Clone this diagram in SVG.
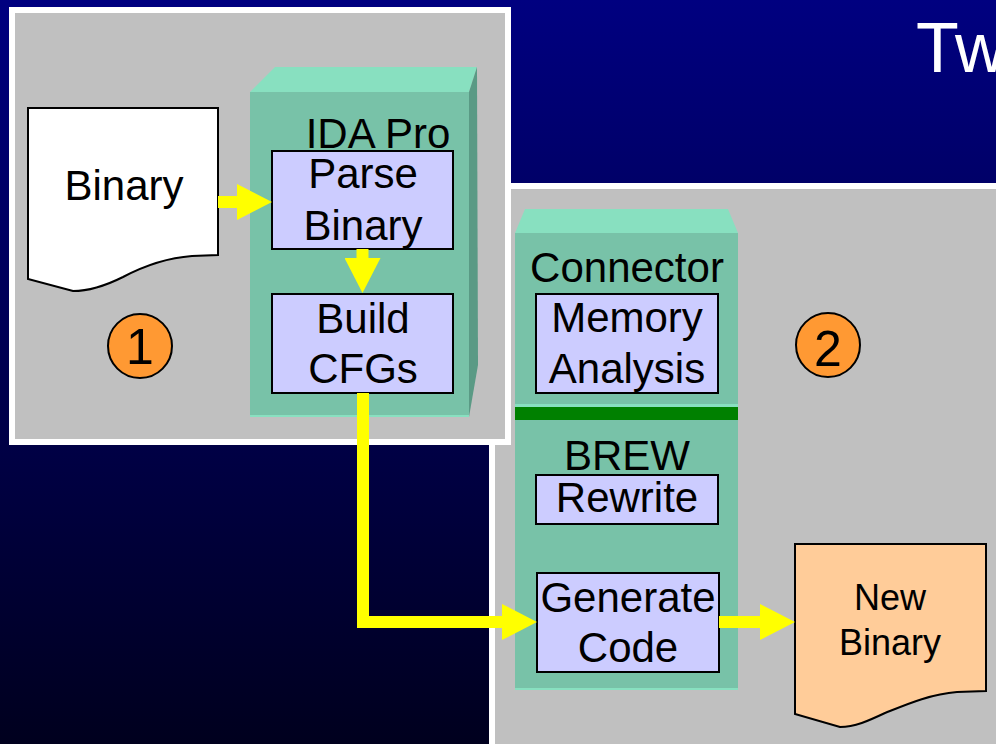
<svg xmlns="http://www.w3.org/2000/svg" width="996" height="744" viewBox="0 0 996 744">
<defs>
<linearGradient id="bg" x1="0" y1="0" x2="0" y2="1">
<stop offset="0" stop-color="#000080"/>
<stop offset="1" stop-color="#00001e"/>
</linearGradient>
<marker id="head" markerUnits="userSpaceOnUse" markerWidth="35" markerHeight="36" viewBox="0 0 35 36" refX="0" refY="18" orient="auto">
<polygon points="0,0 35,18 0,36" fill="#ffff00"/>
</marker>
</defs>
<style>
text{font-family:"Liberation Sans",Arial,sans-serif;fill:#000;text-anchor:middle}
.t42{font-size:42px}
.t36{font-size:36px}
.num{font-size:50px}
.panel{fill:#c0c0c0;stroke:#fff;stroke-width:6}
.front{fill:#78c2a8}
.top{fill:#88e0c0}
.side{fill:#5a9a85}
.box{fill:#ccccff;stroke:#000;stroke-width:2}
.doc{stroke:#000;stroke-width:2}
.badge{fill:#ff9933;stroke:#000;stroke-width:2}
.conn{fill:none;stroke:#ffff00;stroke-width:12;stroke-linejoin:miter;marker-end:url(#head)}
</style>
<rect x="0" y="0" width="996" height="744" fill="url(#bg)"/>
<text x="916" y="72" style="font-size:70px;fill:#fff;text-anchor:start">Tw</text>

<g id="panel2">
<rect class="panel" x="492" y="186" width="600" height="600"/>
</g>
<g id="panel1">
<rect class="panel" x="12" y="10" width="496" height="432"/>
</g>

<g id="ida-pro">
<polygon class="top" points="250,92 275,67 477,67 469,92"/>
<polygon class="side" points="469,92 477,67 478,365 469,417"/>
<rect class="front" x="250" y="92" width="219" height="325"/>
<rect class="top" x="250" y="415" width="219" height="2"/>
<text class="t42" x="378" y="148">IDA Pro</text>
</g>

<g id="brew-box">
<polygon class="top" points="515,233 525,209 728,209 738,233"/>
<rect class="front" x="515" y="233" width="223" height="457"/>
<rect class="top" x="515" y="688" width="223" height="2"/>
<rect class="top" x="515" y="404" width="223" height="3"/>
<rect x="515" y="407" width="223" height="13" fill="#008000"/>
<text class="t42" x="627" y="282">Connector</text>
<text class="t42" x="627" y="470">BREW</text>
</g>

<g id="binary-doc">
<path class="doc" fill="#fff" d="M28,108 L218,108 L218,255 L192,256 C165,258 140,268 123,277 C105,286 90,291 73,291 L28,279 Z"/>
<text class="t42" x="124" y="200">Binary</text>
</g>

<g id="parse-binary">
<rect class="box" x="272" y="151" width="181" height="98"/>
<text class="t42" x="363" y="188">Parse</text>
<text class="t42" x="363" y="240">Binary</text>
</g>

<g id="build-cfgs">
<rect class="box" x="272" y="294" width="181" height="99"/>
<text class="t42" x="363" y="333">Build</text>
<text class="t42" x="363" y="383">CFGs</text>
</g>

<g id="badge1">
<circle class="badge" cx="140" cy="346" r="32"/>
<text class="num" x="140" y="364">1</text>
</g>

<g id="memory-analysis">
<rect class="box" x="536" y="294" width="182" height="99"/>
<text class="t42" x="627" y="332">Memory</text>
<text class="t42" x="627" y="383">Analysis</text>
</g>

<g id="rewrite">
<rect class="box" x="536" y="475" width="182" height="49"/>
<text class="t42" x="627" y="512">Rewrite</text>
</g>

<g id="generate-code">
<rect class="box" x="537" y="573" width="182" height="99"/>
<text class="t42" x="628" y="612">Generate</text>
<text class="t42" x="628" y="662">Code</text>
</g>

<g id="badge2">
<circle class="badge" cx="828" cy="345" r="32"/>
<text class="num" x="828" y="366">2</text>
</g>

<g id="new-binary-doc">
<path class="doc" fill="#ffcc99" d="M795,544 L986,544 L986,691 L957,692 C930,694 905,705 885,713 C868,721 855,727 840,727 L795,714 Z"/>
<text class="t36" x="890" y="610">New</text>
<text class="t36" x="890" y="655">Binary</text>
</g>

<g id="connectors">
<path class="conn" d="M218,202 H237"/>
<path class="conn" d="M362.5,249 V258"/>
<path class="conn" d="M363,393 V622 H502"/>
<path class="conn" d="M719,622 H760"/>
</g>
</svg>
